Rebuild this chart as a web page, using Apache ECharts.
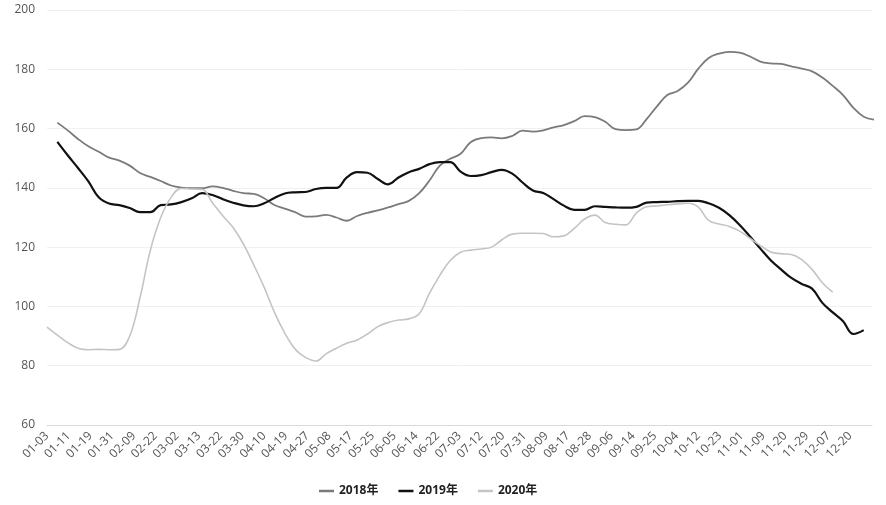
<!DOCTYPE html>
<html>
<head>
<meta charset="utf-8">
<script src="https://cdn.jsdelivr.net/npm/echarts@6/dist/echarts.min.js"></script>
<style>html,body{margin:0;padding:0;background:#fff}#c{width:886px;height:505px}</style>
</head>
<body>
<div id="c"></div>
<script>
// x tick labels (one every label step)
const tickLabels = ['01-03','01-11','01-19','01-31','02-09','02-22','03-02','03-13','03-22','03-30',
  '04-10','04-19','04-27','05-08','05-17','05-25','06-05','06-14','06-22','07-03',
  '07-12','07-20','07-31','08-09','08-17','08-28','09-06','09-14','09-25','10-04',
  '10-12','10-23','11-01','11-09','11-20','11-29','12-07','12-20'];
// series sampled at regular sample steps (null = no data)
const s2018 = [null,162,159.4,156.5,154,152.2,150.2,149.2,147.5,145,143.7,142.3,140.8,140.1,139.9,139.9,140.5,140,139,138.2,
  138,136.5,134.2,133,131.8,130.3,130.4,130.9,130,128.9,130.5,131.6,132.4,133.4,134.5,135.6,138.2,142.5,147.5,149.8,
  151.5,155.5,156.8,157,156.7,157.5,159.3,159,159.4,160.4,161.2,162.5,164.2,163.9,162.3,159.8,159.5,159.7,163.2,167.5,
  171.3,172.7,175.5,180.2,183.8,185.3,185.9,185.6,184.3,182.6,182,181.8,181,180.2,179.3,177.2,174.4,171.3,167,164,163];
const s2019 = [null,155.5,151,146.7,142.2,136.8,134.7,134.2,133.2,131.8,131.8,134.2,134.4,135.2,136.5,138.2,137.6,136.2,135,134.1,
  133.8,134.8,136.6,138.1,138.5,138.6,139.6,140,140,143.5,145.3,145.1,143,141.2,143.5,145.3,146.4,148,148.7,148.7,
  145.5,144,144.3,145.3,146.1,144.8,141.8,139.1,138.3,136.2,134,132.6,132.6,133.8,133.6,133.4,133.3,133.6,135,135.2,
  135.3,135.5,135.6,135.6,134.8,133.3,130.8,127.5,123.6,119.5,115.6,112.5,109.6,107.6,106,101.2,98,95,90.7,92];
const s2020 = [93,90.3,87.8,85.9,85.4,85.5,85.4,85.5,90,103,119,130,136.8,139.8,139.6,139.5,135,130.6,126.6,121,
  114,106.5,98,91,85.6,82.8,81.6,84,85.9,87.6,88.7,90.7,93.2,94.6,95.4,95.8,97.5,104.5,110.5,115.5,
  118.3,119,119.4,120,122.5,124.4,124.7,124.7,124.6,123.5,123.8,126.3,129.5,130.8,128.3,127.7,127.5,131.5,133.6,133.9,
  134.3,134.6,134.8,133.5,129,127.8,127,125.4,123,120.5,118.4,117.8,117.5,115.8,112.5,108,104.8];
const seriesNames = ['2018年','2019年','2020年'];
const samplesPerLabel = 2.1; // samples between two labelled dates

const toPairs = arr => arr.map((v, i) => [i / samplesPerLabel, v]);
const chart = echarts.init(document.getElementById('c'), null, {renderer: 'canvas'});
chart.setOption({
  animation: false,
  backgroundColor: '#fff',
  grid: {left: 47, right: 14, top: 10, bottom: 80, containLabel: false},
  legend: {
    data: seriesNames,
    left: 314, top: 480,
    icon: 'rect', itemWidth: 15, itemHeight: 2.5, itemGap: 20,
    textStyle: {fontFamily: 'Open Sans, Noto Sans CJK SC, sans-serif', fontSize: 12, fontWeight: 'bold', color: '#222'}
  },
  xAxis: {
    type: 'value', min: 0, max: 38, interval: 1,
    axisLine: {show: true, lineStyle: {color: '#d9d9d9'}},
    axisTick: {show: false},
    splitLine: {show: false},
    axisLabel: {
      rotate: 45, margin: 9, fontSize: 12, color: '#555',
      fontFamily: 'Open Sans, sans-serif',
      showMaxLabel: false,
      formatter: v => (Number.isInteger(v) && tickLabels[v]) ? tickLabels[v] : ''
    }
  },
  yAxis: {
    type: 'value', min: 60, max: 200, interval: 20,
    axisLine: {show: false}, axisTick: {show: false},
    splitLine: {lineStyle: {color: '#f0f0f0'}},
    axisLabel: {fontSize: 12, color: '#555', margin: 12, fontFamily: 'Open Sans, sans-serif'}
  },
  series: [
    {name: seriesNames[0], type: 'line', data: toPairs(s2018), smooth: 0.4, symbol: 'none',
      lineStyle: {color: '#7a7a7a', width: 1.8}, itemStyle: {color: '#7a7a7a'}},
    {name: seriesNames[1], type: 'line', data: toPairs(s2019), smooth: 0.4, symbol: 'none',
      lineStyle: {color: '#111', width: 2.2}, itemStyle: {color: '#111'}},
    {name: seriesNames[2], type: 'line', data: toPairs(s2020), smooth: 0.4, symbol: 'none',
      lineStyle: {color: '#c4c4c4', width: 1.6}, itemStyle: {color: '#c4c4c4'}}
  ]
});
</script>
</body>
</html>
